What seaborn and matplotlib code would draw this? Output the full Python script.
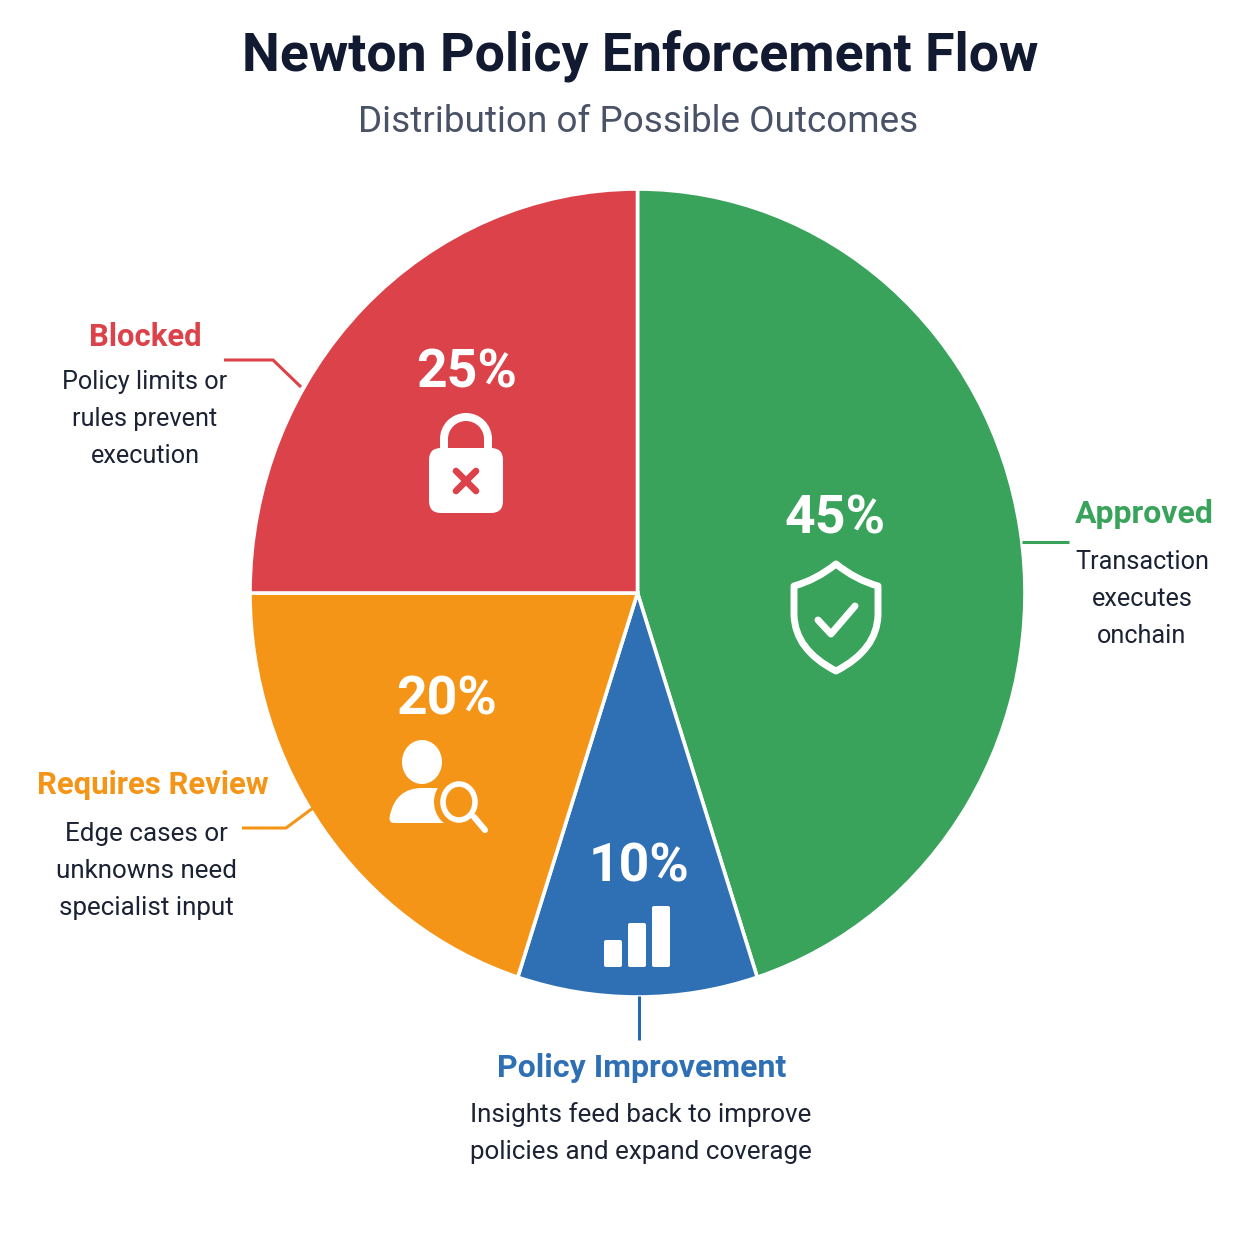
import seaborn as sns
import matplotlib
matplotlib.use("Agg")
import matplotlib.pyplot as plt
from matplotlib.patches import Circle, Ellipse, FancyBboxPatch, PathPatch, Rectangle, Wedge
from matplotlib.path import Path

# data
categorias = ["Approved", "Policy Improvement", "Requires Review", "Blocked"]
valores = [45, 10, 20, 25]
etiquetas = ["45%", "10%", "20%", "25%"]
colores = ["#3aa35b", "#2f70b5", "#f59518", "#db4249"]
descripciones = [
    "Transaction\nexecutes\nonchain",
    "Insights feed back to improve\npolicies and expand coverage",
    "Edge cases or\nunknowns need\nspecialist input",
    "Policy limits or\nrules prevent\nexecution",
]

TINTA = "#1b2233"
FUENTE = "Roboto"
CX, CY, RX, RY = 637.5, 593, 387.5, 404

sns.set_theme(style="white")
plt.rcParams["font.family"] = [FUENTE, "DejaVu Sans"]

fig = plt.figure(figsize=(12.54, 12.54), dpi=100, facecolor="white")

# pie in its own axes, the reference is a bit taller than wide
axPie = fig.add_axes([(CX - RX) / 1254, (1254 - CY - RY) / 1254, 2 * RX / 1254, 2 * RY / 1254])
axPie.pie(
    valores,
    colors=colores,
    startangle=90,
    counterclock=False,
    radius=1,
    wedgeprops={"edgecolor": "white", "linewidth": 2.6},
)
axPie.set_aspect("auto")
axPie.set_xlim(-1, 1)
axPie.set_ylim(-1, 1)
axPie.axis("off")
axPie.patch.set_alpha(0)
for w in axPie.patches:
    w.set_clip_on(False)

# overlay in pixel coordinates
ax = fig.add_axes([0, 0, 1, 1])
ax.set_xlim(0, 1254)
ax.set_ylim(1254, 0)
ax.axis("off")
ax.patch.set_alpha(0)

ax.text(640, 56, "Newton Policy Enforcement Flow", ha="center", va="center",
        fontsize=38.6, fontweight="bold", color="#111a30")
ax.text(638, 122, "Distribution of Possible Outcomes", ha="center", va="center",
        fontsize=26.6, color="#4a5268")

# percent labels
posEtiquetas = [(835, 519), (639, 867), (446, 700), (467, 373)]
for (x, y), t in zip(posEtiquetas, etiquetas):
    ax.text(x, y, t, ha="center", va="center", fontsize=38.5, fontweight="bold", color="white")

# outside labels
posTitulos = [(1144, 514), (642, 1068), (153, 785), (145, 337)]
posTexto = [(1142, 599), (641, 1133), (146, 871), (145, 419)]
tamTitulos = [23, 23, 22.4, 22.4]
tamTexto = [18.2, 18.7, 18.7, 18.2]
espacios = [1.68, 1.69, 1.71, 1.68]
for i in range(4):
    ax.text(*posTitulos[i], categorias[i], ha="center", va="center",
            fontsize=tamTitulos[i], fontweight="bold", color=colores[i])
    ax.text(*posTexto[i], descripciones[i], ha="center", va="center",
            fontsize=tamTexto[i], color=TINTA, linespacing=espacios[i])

# leader lines
lineas = [
    ([1022, 1069], [542, 542], colores[0]),
    ([639, 639], [996, 1040], "#2668b0"),
    ([242, 286, 313], [828, 828, 808], colores[2]),
    ([224, 273, 301], [360, 360, 387], colores[3]),
]
for xs, ys, c in lineas:
    ax.plot(xs, ys, color=c, lw=2.2, solid_capstyle="butt", solid_joinstyle="miter")

# lock icon
ax.add_patch(Wedge((466, 439), 26, 180, 360, width=8, fc="white", ec="none"))
ax.add_patch(Rectangle((440, 438), 8, 14, fc="white", ec="none"))
ax.add_patch(Rectangle((484, 438), 8, 14, fc="white", ec="none"))
ax.add_patch(FancyBboxPatch((441, 460), 50, 41, boxstyle="round,pad=12,rounding_size=12", lw=0, fc="white"))
ax.plot([456, 476], [471, 491], color=colores[3], lw=4.8, solid_capstyle="round")
ax.plot([476, 456], [471, 491], color=colores[3], lw=4.8, solid_capstyle="round")

# shield icon
verts = [(836, 564), (856, 580), (878, 586), (878, 615), (877, 650), (836, 671),
         (795, 650), (794, 615), (794, 586), (816, 580), (836, 564), (836, 564)]
codes = [Path.MOVETO, Path.CURVE3, Path.CURVE3, Path.LINETO, Path.CURVE3, Path.CURVE3,
         Path.CURVE3, Path.CURVE3, Path.LINETO, Path.CURVE3, Path.CURVE3, Path.CLOSEPOLY]
ax.add_patch(PathPatch(Path(verts, codes), fc="none", ec="white", lw=5.0, joinstyle="round"))
ax.plot([818, 831, 855], [620, 634, 606], color="white", lw=5.0,
        solid_capstyle="round", solid_joinstyle="round")

# person + magnifier icon
ax.add_patch(Ellipse((422, 762), 40, 44, fc="white", ec="none"))
cuerpo = Path(
    [(394, 823), (388, 823), (390, 815), (396, 788), (422, 788), (440, 788), (452, 790), (452, 823), (394, 823)],
    [Path.MOVETO, Path.CURVE3, Path.CURVE3, Path.CURVE3, Path.CURVE3, Path.LINETO, Path.LINETO, Path.LINETO, Path.CLOSEPOLY],
)
ax.add_patch(PathPatch(cuerpo, fc="white", ec="none"))
ax.add_patch(Ellipse((458, 802), 48, 52, fc=colores[2], ec="none"))
ax.add_patch(Ellipse((459, 802), 32, 36, fc=colores[2], ec="white", lw=4.0))
ax.plot([474, 485], [817, 830], color="white", lw=4.4, solid_capstyle="round")

# bars icon
barras = [(604, 940, 18, 27), (628, 923, 18, 44), (652, 906, 18, 61)]
for x, y, w, h in barras:
    ax.add_patch(FancyBboxPatch((x, y), w, h, boxstyle="round,pad=0,rounding_size=2", lw=0, fc="white"))

plt.savefig("out.png", dpi=100)
